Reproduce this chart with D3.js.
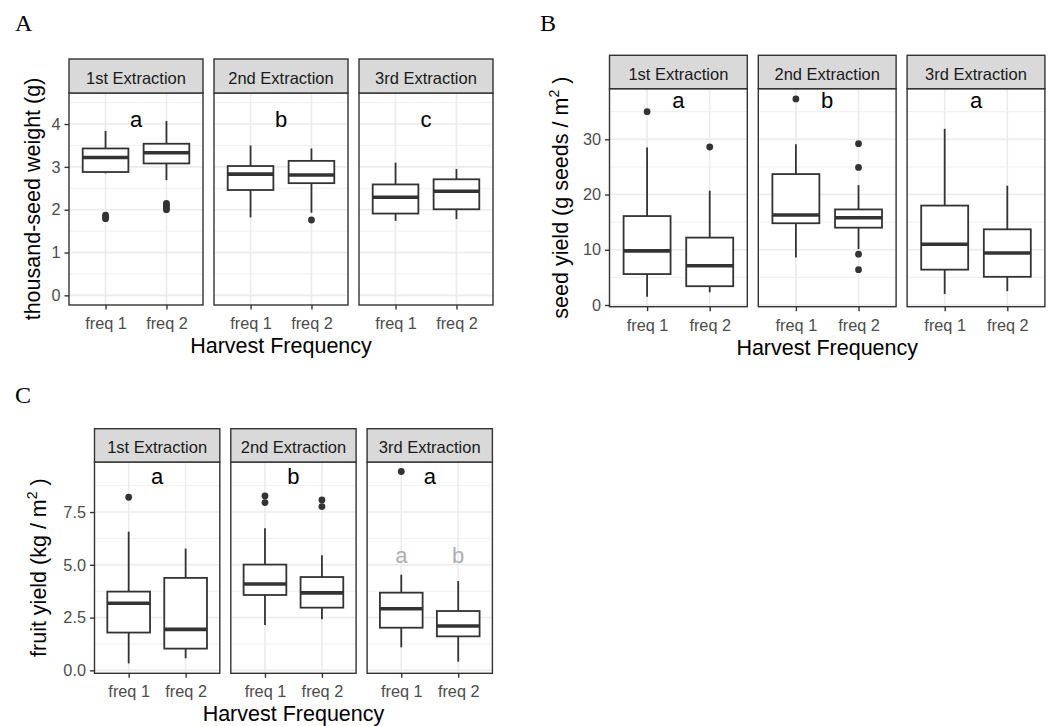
<!DOCTYPE html>
<html>
<head>
<meta charset="utf-8">
<title>Harvest Frequency boxplots</title>
<script src="https://cdn.jsdelivr.net/npm/d3@7"></script>
<style>
  body { margin: 0; background: #fff; }
</style>
</head>
<body>
<div id="chart"></div>
<script>
/* global d3 */

const extractions = ['1st Extraction', '2nd Extraction', '3rd Extraction'];
const freqs = ['freq 1', 'freq 2'];

// one row per extraction x freq: [lower whisker, q1, median, q3, upper whisker]
const seedWeightStats = [
  [2.85, 2.88, 3.22, 3.43, 3.84], [2.69, 3.08, 3.33, 3.54, 4.07],
  [1.82, 2.46, 2.83, 3.02, 3.50], [1.93, 2.62, 2.81, 3.14, 3.43],
  [1.74, 1.91, 2.29, 2.59, 3.10], [1.78, 2.01, 2.43, 2.71, 2.95]
];
const seedWeightOutliers = [[1.87, 1.83, 1.79], [2.15, 2.10, 2.05, 2.00], [], [1.76], [], []];
const seedWeightLetters = ['a', 'b', 'c'];

const seedYieldStats = [
  [1.5, 5.6, 9.8, 16.1, 28.5], [2.3, 3.4, 7.1, 12.2, 20.7],
  [8.6, 14.8, 16.3, 23.7, 29.1], [10.1, 14.0, 15.8, 17.3, 21.7],
  [2.0, 6.4, 11.0, 18.0, 31.9], [2.5, 5.1, 9.4, 13.7, 21.6]
];
const seedYieldOutliers = [[35.0], [28.6], [37.3], [29.2, 24.9, 9.2, 6.4], [], []];
const seedYieldLetters = ['a', 'b', 'a'];

const fruitYieldStats = [
  [0.33, 1.79, 3.18, 3.73, 6.57], [0.57, 1.03, 1.94, 4.38, 5.77],
  [2.15, 3.57, 4.09, 5.01, 6.73], [2.42, 2.97, 3.67, 4.42, 5.45],
  [1.09, 2.02, 2.92, 3.68, 4.53], [0.41, 1.61, 2.10, 2.81, 4.23]
];
const fruitYieldOutliers = [[8.2], [], [8.26, 7.95], [8.07, 7.76], [9.42], []];
const fruitYieldLetters = ['a', 'b', 'a'];
const fruitYieldFreqLetters = ['a', 'b'];   // 3rd extraction only

const seedWeightTicks = [0, 1, 2, 3, 4];
const seedYieldTicks = [0, 10, 20, 30];
const fruitYieldTicks = [0, 2.5, 5, 7.5];

const sans = '"Liberation Sans", Arial, sans-serif';

const svg = d3.select('#chart')
  .append('svg')
    .attr('width', 1053)
    .attr('height', 726)
    .attr('font-family', sans);

function midpoints(ticks) {
  const step = ticks[1] - ticks[0];
  return ticks.map(t => t + step / 2);
}

function drawFacet(cfg) {
  const y = d3.scaleLinear().domain(cfg.domain).range([cfg.bottom, cfg.top]);
  const g = svg.append('g');

  extractions.forEach((ext, i) => {
    const x0 = cfg.left + i * (cfg.width + cfg.gap);
    const x = d3.scalePoint().domain(freqs).range([x0, x0 + cfg.width]).padding(0.6);
    const bw = x.step() * 0.75;
    const p = g.append('g');

    p.append('rect')
      .attr('x', x0).attr('y', cfg.top)
      .attr('width', cfg.width).attr('height', cfg.bottom - cfg.top)
      .attr('fill', '#fff');

    // grid
    p.selectAll('.minor')
      .data(midpoints(cfg.ticks).filter(v => y(v) > cfg.top))
      .enter().append('line')
        .attr('x1', x0).attr('x2', x0 + cfg.width)
        .attr('y1', d => y(d)).attr('y2', d => y(d))
        .attr('stroke', '#EBEBEB').attr('stroke-width', 0.8);
    p.selectAll('.major')
      .data(cfg.ticks)
      .enter().append('line')
        .attr('x1', x0).attr('x2', x0 + cfg.width)
        .attr('y1', d => y(d)).attr('y2', d => y(d))
        .attr('stroke', '#EBEBEB').attr('stroke-width', 1.6);
    p.selectAll('.vgrid')
      .data(freqs)
      .enter().append('line')
        .attr('x1', d => x(d)).attr('x2', d => x(d))
        .attr('y1', cfg.top).attr('y2', cfg.bottom)
        .attr('stroke', '#EBEBEB').attr('stroke-width', 1.6);

    // boxes
    freqs.forEach((f, j) => {
      const s = cfg.stats[i * 2 + j];
      const cx = x(f);
      const b = p.append('g').attr('stroke', '#333333').attr('fill', 'none');
      b.append('line').attr('x1', cx).attr('x2', cx)
        .attr('y1', y(s[3])).attr('y2', y(s[4])).attr('stroke-width', 1.8);
      b.append('line').attr('x1', cx).attr('x2', cx)
        .attr('y1', y(s[1])).attr('y2', y(s[0])).attr('stroke-width', 1.8);
      b.append('rect')
        .attr('x', cx - bw / 2).attr('width', bw)
        .attr('y', y(s[3])).attr('height', y(s[1]) - y(s[3]))
        .attr('fill', '#fff').attr('stroke-width', 1.8);
      b.append('line').attr('x1', cx - bw / 2).attr('x2', cx + bw / 2)
        .attr('y1', y(s[2])).attr('y2', y(s[2])).attr('stroke-width', 3.6);
      p.selectAll(null)
        .data(cfg.outliers[i * 2 + j])
        .enter().append('circle')
          .attr('cx', cx).attr('cy', d => y(d)).attr('r', 3.4)
          .attr('fill', '#333333');
    });

    // significance letters
    p.append('text')
      .attr('x', x0 + cfg.width / 2).attr('y', y(cfg.letterAt))
      .attr('text-anchor', 'middle').attr('font-size', 22).attr('fill', '#000')
      .text(cfg.letters[i]);
    if (cfg.freqLetters && i === 2) {
      freqs.forEach((f, j) => {
        p.append('text')
          .attr('x', x(f)).attr('y', y(cfg.freqLetterAt))
          .attr('text-anchor', 'middle').attr('font-size', 22).attr('fill', '#ADADAD')
          .text(cfg.freqLetters[j]);
      });
    }

    // panel border
    p.append('rect')
      .attr('x', x0).attr('y', cfg.top)
      .attr('width', cfg.width).attr('height', cfg.bottom - cfg.top)
      .attr('fill', 'none').attr('stroke', '#333333').attr('stroke-width', 1.4);

    // strip
    p.append('rect')
      .attr('x', x0).attr('y', cfg.stripTop)
      .attr('width', cfg.width).attr('height', cfg.top - cfg.stripTop)
      .attr('fill', '#D9D9D9').attr('stroke', '#333333').attr('stroke-width', 1.4);
    p.append('text')
      .attr('x', x0 + cfg.width / 2).attr('y', cfg.stripTop + 24.5)
      .attr('text-anchor', 'middle').attr('font-size', 16.5).attr('fill', '#1A1A1A')
      .text(ext);

    // x axis
    const xa = p.append('g')
      .attr('transform', `translate(0, ${cfg.bottom})`)
      .call(d3.axisBottom(x).tickSize(4.5));
    xa.attr('font-family', sans);
    xa.select('.domain').remove();
    xa.selectAll('line').attr('stroke', '#333333').attr('stroke-width', 1.4);
    xa.selectAll('text')
      .attr('dy', null).attr('y', 24)
      .attr('font-size', 16.3).attr('fill', '#4D4D4D');
  });

  // y axis on the first panel
  const ya = g.append('g')
    .attr('transform', `translate(${cfg.left}, 0)`)
    .call(d3.axisLeft(y).tickValues(cfg.ticks).tickFormat(cfg.fmt).tickSize(4.5).tickPadding(4));
  ya.attr('font-family', sans);
  ya.select('.domain').remove();
  ya.selectAll('line').attr('stroke', '#333333').attr('stroke-width', 1.4);
  ya.selectAll('text')
    .attr('font-size', 16.3).attr('fill', '#4D4D4D');

  // titles
  const yt = g.append('text')
    .attr('transform', `translate(${cfg.yTitleX}, ${(cfg.top + cfg.bottom) / 2}) rotate(-90)`)
    .attr('text-anchor', 'middle').attr('font-size', 21.5).attr('fill', '#000');
  cfg.yTitle(yt);

  const right = cfg.left + 3 * cfg.width + 2 * cfg.gap;
  g.append('text')
    .attr('x', (cfg.left + right) / 2).attr('y', cfg.xTitleY)
    .attr('text-anchor', 'middle').attr('font-size', 21.5).attr('fill', '#000')
    .text('Harvest Frequency');

  g.append('text')
    .attr('x', cfg.tagX).attr('y', cfg.tagY)
    .attr('font-family', '"Liberation Serif", "Times New Roman", serif')
    .attr('font-size', 24).attr('fill', '#000')
    .text(cfg.tag);
}

function squareMetres(prefix) {
  return t => {
    t.append('tspan').text(prefix + ' m');
    t.append('tspan').attr('font-size', 14).attr('dy', -9).text('2');
    t.append('tspan').attr('dy', 9).text(' )');
  };
}

drawFacet({
  tag: 'A', tagX: 15, tagY: 31,
  left: 69, width: 134, gap: 11,
  stripTop: 59, top: 93, bottom: 305,
  domain: [-0.225, 4.725], ticks: seedWeightTicks, fmt: d3.format('d'),
  stats: seedWeightStats, outliers: seedWeightOutliers,
  letters: seedWeightLetters, letterAt: 3.94,
  yTitleX: 40, xTitleY: 353,
  yTitle: t => t.text('thousand-seed weight (g)')
});

drawFacet({
  tag: 'B', tagX: 540, tagY: 31,
  left: 609.5, width: 137.8, gap: 11,
  stripTop: 55.3, top: 88.7, bottom: 306.7,
  domain: [-0.31, 39.16], ticks: seedYieldTicks, fmt: d3.format('d'),
  stats: seedYieldStats, outliers: seedYieldOutliers,
  letters: seedYieldLetters, letterAt: 35.6,
  yTitleX: 568, xTitleY: 355,
  yTitle: squareMetres('seed yield (g seeds /')
});

drawFacet({
  tag: 'C', tagX: 15, tagY: 403,
  left: 94.5, width: 125.3, gap: 11,
  stripTop: 428.7, top: 462, bottom: 673.3,
  domain: [-0.14, 9.87], ticks: fruitYieldTicks, fmt: d3.format('.1f'),
  stats: fruitYieldStats, outliers: fruitYieldOutliers,
  letters: fruitYieldLetters, letterAt: 8.83,
  freqLetters: fruitYieldFreqLetters, freqLetterAt: 5.1,
  yTitleX: 46, xTitleY: 721,
  yTitle: squareMetres('fruit yield (kg /')
});
</script>
</body>
</html>
